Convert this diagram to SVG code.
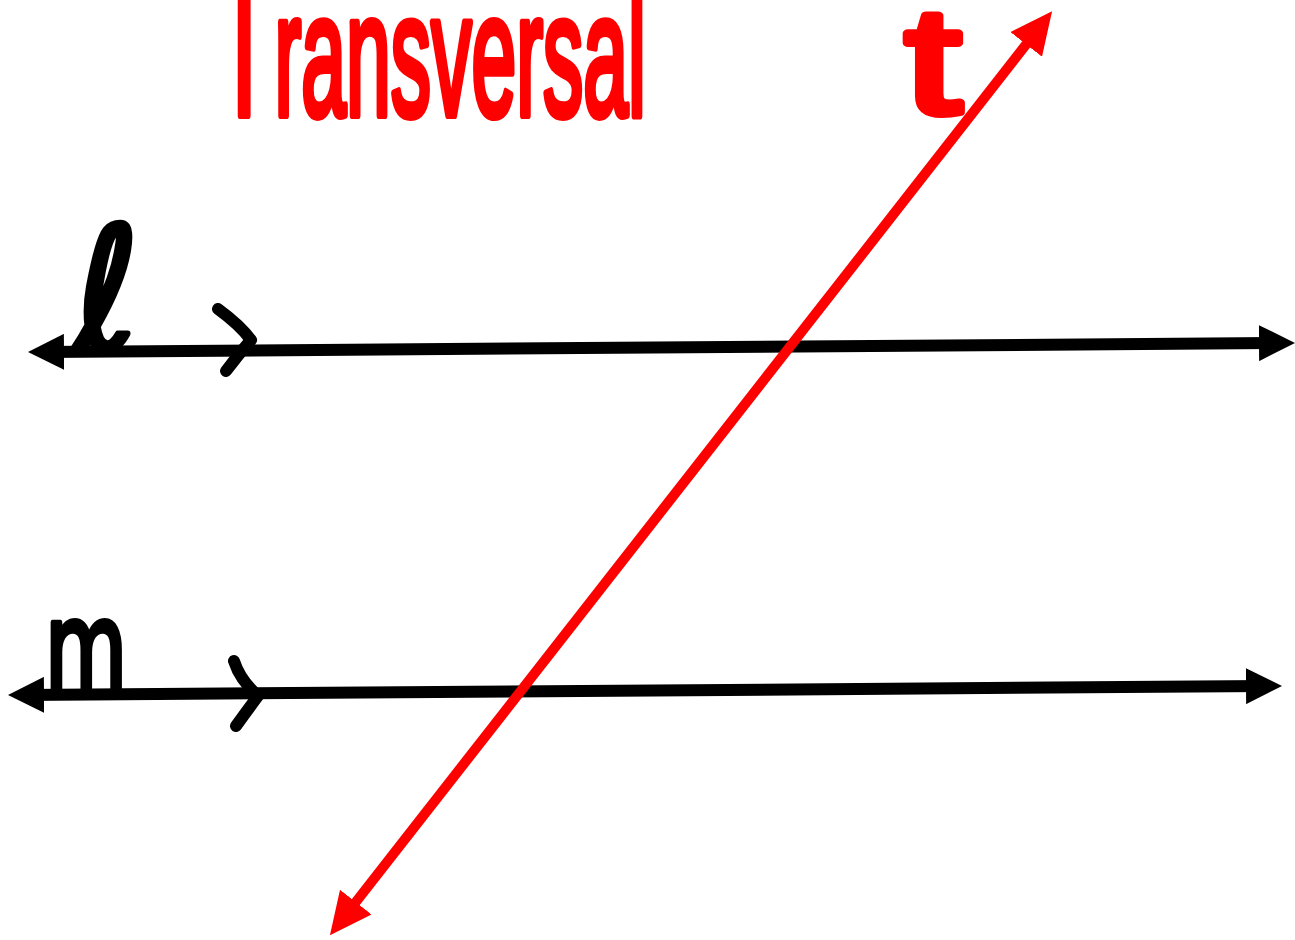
<svg xmlns="http://www.w3.org/2000/svg" width="1295" height="940" viewBox="0 0 1295 940">
  <style>
    .ln { stroke: #000; stroke-width: 12; fill: none; }
    .tk { stroke: #000; stroke-width: 12; fill: none; stroke-linecap: round; stroke-linejoin: round; }
    .tr { stroke: #ff0000; stroke-width: 10; fill: none; }
    .lbl { font-family: "DejaVu Sans", "Liberation Sans", sans-serif; fill: #000; stroke: #000; stroke-width: 6; stroke-linejoin: round; }
    .red { font-family: "Liberation Sans", Arial, sans-serif; fill: #ff0000; stroke: #ff0000; stroke-width: 8; stroke-linejoin: round; }
  </style>
  <defs>
    <marker id="ab" viewBox="0 0 36 36" markerWidth="36" markerHeight="36" refX="20" refY="18" orient="auto-start-reverse" markerUnits="userSpaceOnUse">
      <path d="M0,0 L36,18 L0,36 Z" fill="#000"/>
    </marker>
    <marker id="ar" viewBox="0 0 42 40" markerWidth="42" markerHeight="40" refX="24" refY="20" orient="auto-start-reverse" markerUnits="userSpaceOnUse">
      <path d="M0,0 L42,20 L0,40 Z" fill="#ff0000"/>
    </marker>
  </defs>
  <rect width="1295" height="940" fill="#fff"/>

  <g id="connectors">
    <line id="line-l" class="ln" x1="44" y1="352" x2="1279" y2="343" marker-start="url(#ab)" marker-end="url(#ab)"/>
    <line id="line-m" class="ln" x1="24" y1="695" x2="1266" y2="686" marker-start="url(#ab)" marker-end="url(#ab)"/>
    <line id="line-t" class="tr" x1="341" y1="921" x2="1041" y2="25.5" marker-start="url(#ar)" marker-end="url(#ar)"/>
    <path class="tk" d="M218,309 Q240,325 251,340 Q238,355 226,371"/>
    <path class="tk" d="M234,661 Q240,680 258,696 Q246,712 236,726"/>
  </g>

  <g id="label-transversal">
    <text class="red" x="214" y="115" font-size="175" textLength="432" lengthAdjust="spacingAndGlyphs"><tspan font-size="215">T</tspan>ransversal</text>
  </g>
  <g id="label-t">
    <text class="red" x="905" y="113" font-size="150" textLength="56" lengthAdjust="spacingAndGlyphs">t</text>
  </g>
  <g id="label-l">
    <text class="lbl" x="75" y="349" font-size="170" textLength="64" lengthAdjust="spacingAndGlyphs">ℓ</text>
  </g>
  <g id="label-m">
    <text class="lbl" x="45" y="691" font-size="125" textLength="82" lengthAdjust="spacingAndGlyphs" font-family="Liberation Sans, sans-serif">m</text>
  </g>
</svg>
